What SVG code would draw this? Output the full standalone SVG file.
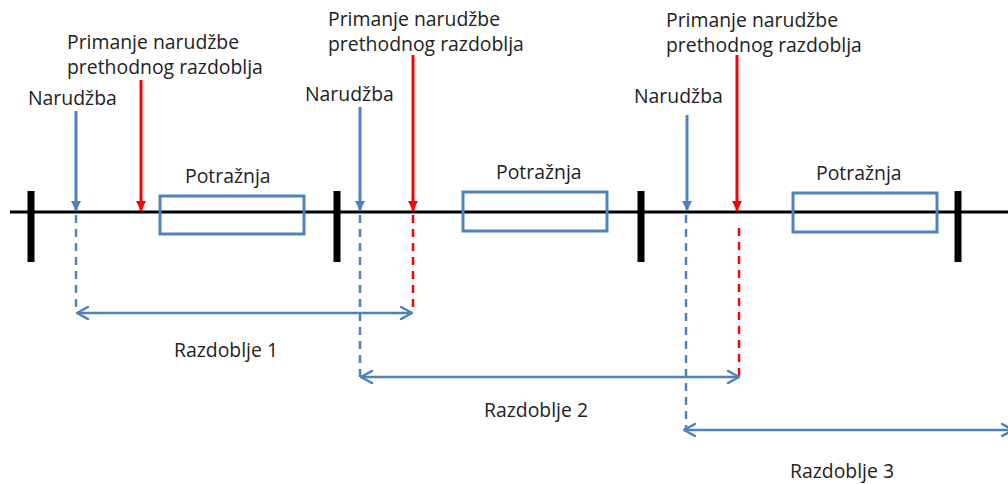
<svg xmlns="http://www.w3.org/2000/svg" width="1008" height="484" viewBox="0 0 1008 484">
  <style>
    .lbl { font-family: "Open Sans", Lato, "Liberation Sans", sans-serif; font-size: 19.4px; fill: #222; }
    .axis { stroke: #000; stroke-width: 3; fill: none; }
    .tick { stroke: #000; stroke-width: 7; fill: none; }
    .box { stroke: #4F81BD; stroke-width: 3; fill: none; }
    .ord { stroke: #4F81BD; stroke-width: 3; fill: none; }
    .rec { stroke: #FF0000; stroke-width: 3; fill: none; }
    .dashB { stroke: #4F81BD; stroke-width: 2.5; stroke-dasharray: 8 6; fill: none; }
    .dashR { stroke: #FF0000; stroke-width: 2.5; stroke-dasharray: 8 6; fill: none; }
    .span { stroke: #4F81BD; stroke-width: 2.5; fill: none; marker-start: url(#chevS); marker-end: url(#chevE); }
  </style>
  <defs>
    <marker id="headB" viewBox="0 0 10 10" refX="10" refY="5" markerWidth="10" markerHeight="10" markerUnits="userSpaceOnUse" orient="auto">
      <path d="M0,0 L10,5 L0,10 z" fill="#4F81BD"/>
    </marker>
    <marker id="headR" viewBox="0 0 10 10" refX="10" refY="5" markerWidth="10" markerHeight="10" markerUnits="userSpaceOnUse" orient="auto">
      <path d="M0,0 L10,5 L0,10 z" fill="#FF0000"/>
    </marker>
    <marker id="chevE" viewBox="0 0 14 14" refX="13" refY="7" markerWidth="14" markerHeight="14" markerUnits="userSpaceOnUse" orient="auto">
      <path d="M2,1 L13,7 L2,13" fill="none" stroke="#4F81BD" stroke-width="2.5" stroke-linecap="round" stroke-linejoin="round"/>
    </marker>
    <marker id="chevS" viewBox="0 0 14 14" refX="1" refY="7" markerWidth="14" markerHeight="14" markerUnits="userSpaceOnUse" orient="auto">
      <path d="M12,1 L1,7 L12,13" fill="none" stroke="#4F81BD" stroke-width="2.5" stroke-linecap="round" stroke-linejoin="round"/>
    </marker>
  </defs>

  <!-- time axis with period boundaries -->
  <g id="timeline">
    <line class="axis" x1="10" y1="212" x2="1008" y2="212"/>
    <line class="tick" x1="31" y1="191" x2="31" y2="262"/>
    <line class="tick" x1="337" y1="191" x2="337" y2="262"/>
    <line class="tick" x1="641" y1="191" x2="641" y2="262"/>
    <line class="tick" x1="958" y1="191" x2="958" y2="262"/>
  </g>

  <!-- demand blocks -->
  <g id="demand1">
    <rect class="box" x="160" y="196" width="144" height="38"/>
    <text class="lbl" x="185" y="183">Potražnja</text>
  </g>
  <g id="demand2">
    <rect class="box" x="463" y="192" width="144" height="39"/>
    <text class="lbl" x="496" y="179">Potražnja</text>
  </g>
  <g id="demand3">
    <rect class="box" x="793" y="193" width="144" height="39"/>
    <text class="lbl" x="816" y="180">Potražnja</text>
  </g>

  <!-- orders placed -->
  <g id="order1">
    <text class="lbl" x="28" y="105">Narudžba</text>
  </g>
  <g id="order2">
    <text class="lbl" x="305" y="101">Narudžba</text>
  </g>
  <g id="order3">
    <text class="lbl" x="634" y="103">Narudžba</text>
  </g>

  <!-- receipts of previous period's order -->
  <g id="receipt1">
    <text class="lbl" x="67" y="49">Primanje narudžbe</text>
    <text class="lbl" x="67" y="74">prethodnog razdoblja</text>
  </g>
  <g id="receipt2">
    <text class="lbl" x="328" y="26">Primanje narudžbe</text>
    <text class="lbl" x="328" y="51">prethodnog razdoblja</text>
  </g>
  <g id="receipt3">
    <text class="lbl" x="666" y="27">Primanje narudžbe</text>
    <text class="lbl" x="666" y="52">prethodnog razdoblja</text>
  </g>

  <!-- period spans -->
  <g id="period1">
    <text class="lbl" x="174" y="357">Razdoblje 1</text>
  </g>
  <g id="period2">
    <text class="lbl" x="484" y="417">Razdoblje 2</text>
  </g>
  <g id="period3">
    <text class="lbl" x="790" y="478">Razdoblje 3</text>
  </g>

  <g id="connectors">
    <!-- order arrows -->
    <line class="ord" x1="76" y1="111" x2="76" y2="211" marker-end="url(#headB)"/>
    <line class="ord" x1="360" y1="107" x2="360" y2="211" marker-end="url(#headB)"/>
    <line class="ord" x1="687" y1="115" x2="687" y2="211" marker-end="url(#headB)"/>
    <!-- receipt arrows -->
    <line class="rec" x1="141" y1="80" x2="141" y2="211" marker-end="url(#headR)"/>
    <line class="rec" x1="413" y1="55" x2="413" y2="211" marker-end="url(#headR)"/>
    <line class="rec" x1="737" y1="55" x2="737" y2="211" marker-end="url(#headR)"/>
    <!-- dashed drop lines -->
    <line class="dashB" x1="76" y1="215" x2="76" y2="312"/>
    <line class="dashR" x1="413" y1="215" x2="413" y2="312"/>
    <line class="dashB" x1="360" y1="215" x2="360" y2="377"/>
    <line class="dashR" x1="739" y1="228" x2="739" y2="377"/>
    <line class="dashB" x1="686" y1="215" x2="686" y2="430"/>
    <!-- period spans -->
    <line class="span" x1="77" y1="313" x2="412" y2="313"/>
    <line class="span" x1="361" y1="377" x2="739" y2="377"/>
    <line class="span" x1="684" y1="430" x2="1013" y2="430"/>
  </g>
</svg>
